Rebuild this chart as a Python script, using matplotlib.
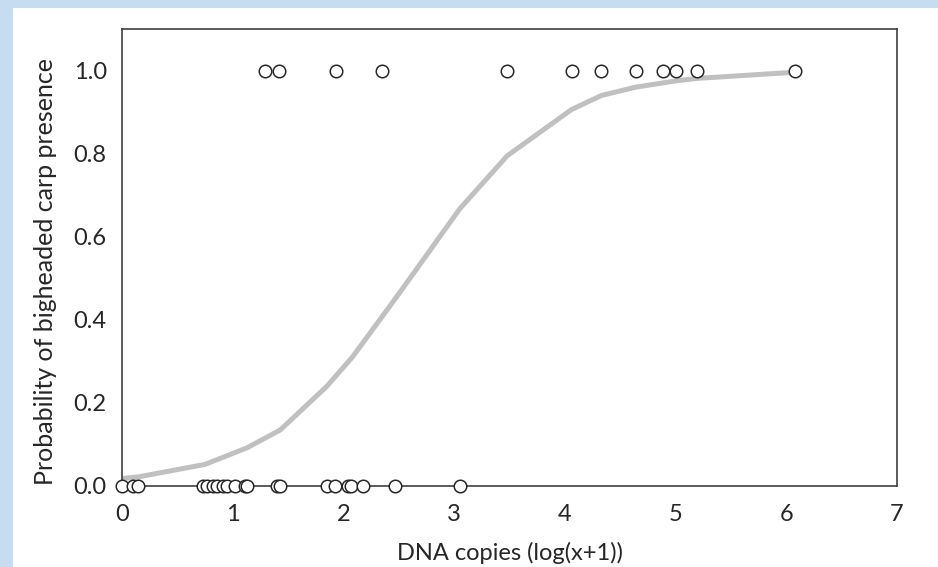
import matplotlib
matplotlib.use("Agg")
import matplotlib.pyplot as plt
from matplotlib.patches import Rectangle

# observaciones con presencia (y = 1)
x_presencia = [1.29, 1.42, 1.93, 2.35, 3.48, 4.06, 4.33, 4.64, 4.89, 5.00, 5.19, 6.08]
# observaciones sin presencia (y = 0)
x_ausencia = [0.0, 0.10, 0.145, 0.73, 0.77, 0.82, 0.86, 0.91, 0.95, 1.02, 1.11, 1.13,
              1.40, 1.43, 1.85, 1.92, 2.04, 2.07, 2.18, 2.47, 3.05]

# curva ajustada (vértices)
curva_x = [0.0, 0.15, 0.75, 1.13, 1.43, 1.85, 2.08, 2.48, 3.05, 3.48, 4.06, 4.33, 4.64, 5.00, 5.19, 6.08]
curva_y = [0.018, 0.022, 0.052, 0.092, 0.135, 0.24, 0.31, 0.455, 0.667, 0.795, 0.906, 0.94, 0.96, 0.975, 0.981, 0.996]

x_ticks = [0, 1, 2, 3, 4, 5, 6, 7]
y_ticks = [0.0, 0.2, 0.4, 0.6, 0.8, 1.0]

plt.rcParams['font.family'] = ['Lato', 'DejaVu Sans']

fig = plt.figure(figsize=(9.38, 5.67), dpi=100, facecolor="#c6dcf0")
fondo = Rectangle((13 / 938, 0), 1, 1 - 8 / 567, transform=fig.transFigure,
                  facecolor="white", edgecolor="none", zorder=-10)
fig.patches.append(fondo)

ax = fig.add_axes([122 / 938, 1 - 486 / 567, 775 / 938, 457 / 567])
ax.set_facecolor("white")

ax.plot(curva_x, curva_y, color="#c0c0c0", linewidth=3.6, solid_capstyle="butt", zorder=2)
ax.plot(x_presencia, [1.0] * len(x_presencia), linestyle="none", marker="o", markersize=9,
        markerfacecolor="white", markeredgecolor="#262626", markeredgewidth=1.1, zorder=4, clip_on=False)
ax.plot(x_ausencia, [0.0] * len(x_ausencia), linestyle="none", marker="o", markersize=9,
        markerfacecolor="white", markeredgecolor="#262626", markeredgewidth=1.1, zorder=4, clip_on=False)

ax.set_xlim(0, 7)
ax.set_ylim(0, 1.1)
ax.set_xticks(x_ticks)
ax.set_yticks(y_ticks)
ax.set_yticklabels([f"{v:.1f}" for v in y_ticks])
ax.tick_params(length=0, labelsize=17, labelcolor="#262626")
ax.tick_params(axis="y", pad=11)
ax.tick_params(axis="x", pad=13)

for s in ax.spines.values():
    s.set_color("#404040")
    s.set_linewidth(1.2)
    s.set_zorder(3)

ax.set_xlabel("DNA copies (log(x+1))", fontsize=17, color="#262626", labelpad=12)
ax.set_ylabel("Probability of bigheaded carp presence", fontsize=18, color="#262626")
ax.yaxis.set_label_coords(-0.084, 0.47)

fig.savefig("out.png", dpi=100, facecolor=fig.get_facecolor())
